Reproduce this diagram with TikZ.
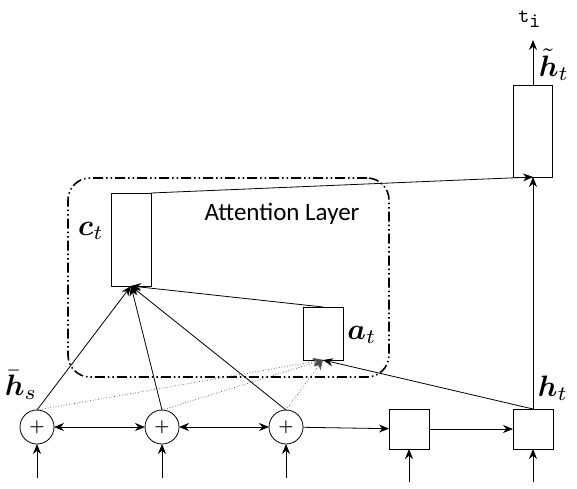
\documentclass[tikz,border=0pt]{standalone}
\usepackage{bm}
\usepackage{fontspec}
\newfontfamily\calib{Carlito}
\usetikzlibrary{arrows.meta}
\begin{document}
\begin{tikzpicture}[x=1pt,y=-1pt,
  every node/.style={inner sep=0pt,outer sep=0pt},
  circ/.style={draw,circle,minimum size=34pt,line width=0.8pt},
  sq/.style={draw,minimum width=40pt,minimum height=40pt,line width=0.8pt},
  lbl/.style={font=\fontsize{10}{12}\selectfont,scale=2.95},
  arr/.style={-{Stealth[length=10pt,width=8pt]},line width=0.8pt},
  darr/.style={{Stealth[length=10pt,width=8pt]}-{Stealth[length=10pt,width=8pt]},line width=0.8pt},
  dotl/.style={-{Stealth[length=10pt,width=8pt]},dotted,line width=0.7pt,gray!60!black},
  ln/.style={line width=0.8pt}]
\useasboundingbox (0,0) rectangle (577,488);
% attention layer
\node[draw,line width=1.6pt,rounded corners=22pt,minimum width=321pt,minimum height=199pt,
  dash pattern=on 10pt off 3pt on 1.5pt off 3pt on 1.5pt off 3pt] (att) at (228.5,277.5) {};
\node[font=\calib\fontsize{25}{28}\selectfont] (attl) at (282,214) {Attention Layer};
% bottom row
\node[circ] (s1) at (37,427) {\scalebox{1.7}{\textbf{+}}};
\node[circ] (s2) at (162,427) {\scalebox{1.7}{\textbf{+}}};
\node[circ] (s3) at (286,427) {\scalebox{1.7}{\textbf{+}}};
\node[sq] (b4) at (409,429) {};
\node[sq] (b5) at (533,429) {};
% boxes
\node[draw,line width=0.8pt,minimum width=40pt,minimum height=93pt] (ct) at (131,239.5) {};
\node[draw,line width=0.8pt,minimum width=40pt,minimum height=53pt] (at) at (323,333.5) {};
\node[draw,line width=0.8pt,minimum width=39pt,minimum height=92pt] (ht) at (533,131) {};
% inputs
\coordinate (i1) at (37,478);
\coordinate (i2) at (162,478);
\coordinate (i3) at (286,478);
\coordinate (i4) at (409,482);
\coordinate (i5) at (533,482);
\coordinate (out) at (533,40);
\foreach \a/\b in {i1/s1,i2/s2,i3/s3,i4/b4,i5/b5} \draw[arr] (\a) -- (\b);
% horizontal
\draw[darr] (s1) -- (s2);
\draw[darr] (s2) -- (s3);
\draw[arr] (s3) -- (b4);
\draw[arr] (b4) -- (b5);
% dotted to a_t
\draw[dotl] (s1.north) -- (at.south);
\draw[dotl] (s2.north) -- (at.south);
\draw[dotl] (s3.north) -- (at.south);
\draw[arr] (b5.north) -- (at.south);
% to c_t
\draw[arr] (s1.north) -- (ct.south);
\draw[arr] (s2.north) -- (ct.south);
\draw[arr] (s3.north) -- (ct.south);
\draw[arr] (at.north) -- (ct.south);
% to h~
\draw[arr] (ct.north east) -- (ht.south);
\draw[arr] (b5.north) -- (ht.south);
\draw[arr] (ht.north) -- (out);
% labels
\node[lbl] (lhs) at (21,385) {$\bar{\bm{h}}_s$};
\node[lbl] (lht) at (553,388) {$\bm{h}_t$};
\node[lbl] (lct) at (91,231) {$\bm{c}_t$};
\node[lbl] (lat) at (362,335) {$\bm{a}_t$};
\node[lbl] (lhtt) at (554,65) {$\tilde{\bm{h}}_t$};
\node (lti) at (530,19) {\scalebox{2.1}{\texttt{t}$_{\texttt{i}}$}};
\end{tikzpicture}
\end{document}
